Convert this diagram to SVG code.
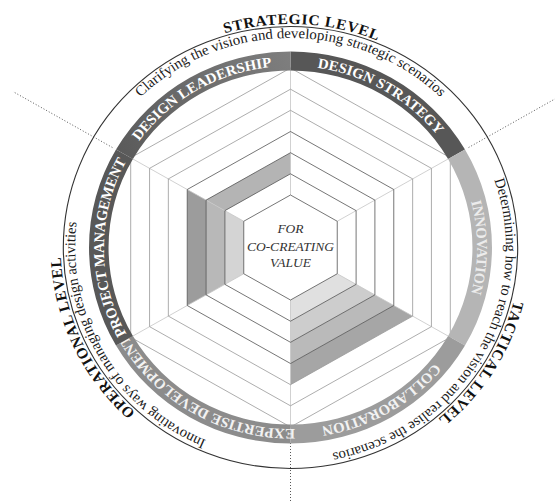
<svg xmlns="http://www.w3.org/2000/svg" width="555" height="501" viewBox="0 0 555 501">
<style>
  .hex-in{fill:none;stroke:#555;stroke-width:0.8}
  .hex-out{fill:none;stroke:#9a9a9a;stroke-width:0.8}
  .spoke{stroke:#c6c6c6;stroke-width:0.8}
  .band-text{font-family:"Liberation Serif","Times New Roman",serif;font-weight:bold;font-size:14.5px;fill:#fff;text-anchor:middle}
  .desc{font-family:"Liberation Serif","Times New Roman",serif;font-size:14.5px;fill:#1a1a1a;text-anchor:middle}
  .level{font-family:"Liberation Serif","Times New Roman",serif;font-weight:bold;font-size:15px;letter-spacing:0.7px;fill:#111;text-anchor:middle}
  .center{font-family:"Liberation Serif","Times New Roman",serif;font-style:italic;font-size:13.5px;fill:#333;text-anchor:middle}
  .divider{stroke:#444;stroke-width:0.9;stroke-dasharray:1 2;fill:none}
</style>
<defs>
  <!-- clockwise circles starting at the bottom, used to set text along the rings -->
  <path id="arc-band" d="M0,181.5 A181.5,181.5 0 1,1 0,-181.5 A181.5,181.5 0 1,1 0,181.5"/>
  <path id="arc-desc" d="M0,209.5 A209.5,209.5 0 1,1 0,-209.5 A209.5,209.5 0 1,1 0,209.5"/>
  <path id="arc-level" d="M0,223.5 A223.5,223.5 0 1,1 0,-223.5 A223.5,223.5 0 1,1 0,223.5"/>
  <linearGradient id="dl-grad" gradientUnits="userSpaceOnUse" x1="-170" y1="-98" x2="0" y2="-190">
    <stop offset="0" stop-color="#5a5a5a"/>
    <stop offset="1" stop-color="#7e7e7e"/>
  </linearGradient>
</defs>

<rect width="555" height="501" fill="#fff"/>

<!-- radial dividers between the three levels -->
<g id="dividers">
  <line class="divider" x1="112.4" y1="147.5" x2="13" y2="91.6"/>
  <line class="divider" x1="468.6" y1="147.5" x2="555" y2="98.9"/>
  <line class="divider" x1="290.5" y1="443" x2="290.5" y2="501"/>
</g>

<g transform="translate(290.5 247.5) scale(1.028 1)">
  <!-- shaded levels inside the hexagonal grid -->
  <g id="levels">
    <!-- project management -->
    <polygon fill="#d4d4d4" points="-45.47,26.25 -63.82,36.85 -63.82,-36.85 -45.47,-26.25"/>
    <polygon fill="#b8b8b8" points="-63.82,36.85 -82.1,47.4 -82.1,-47.4 -63.82,-36.85"/>
    <polygon fill="#9c9c9c" points="-82.1,47.4 -100.46,58 -100.46,-58 -82.1,-47.4"/>
    <!-- collaboration -->
    <polygon fill="#e0e0e0" points="45.47,26.25 63.82,36.85 0,73.7 0,52.5"/>
    <polygon fill="#cdcdcd" points="63.82,36.85 82.1,47.4 0,94.8 0,73.7"/>
    <polygon fill="#bababa" points="82.1,47.4 100.46,58 0,116 0,94.8"/>
    <polygon fill="#a6a6a6" points="100.46,58 118.82,68.6 0,137.2 0,116"/>
    <!-- design leadership -->
    <polygon fill="#b4b4b4" points="-63.82,-36.85 -82.1,-47.4 0,-94.8 0,-73.7"/>
  </g>

  <g id="hexagon-grid">
    <line class="spoke" x1="0" y1="-52.5" x2="0" y2="-179.5"/>
    <line class="spoke" x1="45.47" y1="-26.25" x2="155.45" y2="-89.75"/>
    <line class="spoke" x1="45.47" y1="26.25" x2="155.45" y2="89.75"/>
    <line class="spoke" x1="0" y1="52.5" x2="0" y2="179.5"/>
    <line class="spoke" x1="-45.47" y1="26.25" x2="-155.45" y2="89.75"/>
    <line class="spoke" x1="-45.47" y1="-26.25" x2="-155.45" y2="-89.75"/>
    <polygon class="hex-out" points="0,-179.5 155.45,-89.75 155.45,89.75 0,179.5 -155.45,89.75 -155.45,-89.75"/>
    <polygon class="hex-out" points="0,-158.3 137.09,-79.15 137.09,79.15 0,158.3 -137.09,79.15 -137.09,-79.15"/>
    <polygon class="hex-out" points="0,-137.2 118.82,-68.6 118.82,68.6 0,137.2 -118.82,68.6 -118.82,-68.6"/>
    <polygon class="hex-in" points="0,-116 100.46,-58 100.46,58 0,116 -100.46,58 -100.46,-58"/>
    <polygon class="hex-in" points="0,-94.8 82.1,-47.4 82.1,47.4 0,94.8 -82.1,47.4 -82.1,-47.4"/>
    <polygon class="hex-in" points="0,-73.7 63.82,-36.85 63.82,36.85 0,73.7 -63.82,36.85 -63.82,-36.85"/>
    <polygon class="hex-in" points="0,-52.5 45.47,-26.25 45.47,26.25 0,52.5 -45.47,26.25 -45.47,-26.25"/>
  </g>

  <g id="design-strategy">
    <path fill="#575757" d="M0,-196 A196,196 0 0,1 169.74,-98 L153.29,-88.5 A177,177 0 0,0 0,-177 Z"/>
    <text class="band-text"><textPath href="#arc-band" startOffset="58.333%">DESIGN STRATEGY</textPath></text>
  </g>
  <g id="innovation">
    <path fill="#b5b5b5" d="M169.74,-98 A196,196 0 0,1 169.74,98 L153.29,88.5 A177,177 0 0,0 153.29,-88.5 Z"/>
    <text class="band-text" style="fill:#ececec"><textPath href="#arc-band" startOffset="75%">INNOVATION</textPath></text>
  </g>
  <g id="collaboration">
    <path fill="#9c9c9c" d="M169.74,98 A196,196 0 0,1 0,196 L0,177 A177,177 0 0,0 153.29,88.5 Z"/>
    <text class="band-text" style="fill:#f2f2f2"><textPath href="#arc-band" startOffset="91.667%">COLLABORATION</textPath></text>
  </g>
  <g id="expertise-development">
    <path fill="#8c8c8c" d="M0,196 A196,196 0 0,1 -169.74,98 L-153.29,88.5 A177,177 0 0,0 0,177 Z"/>
    <text class="band-text" style="fill:#f2f2f2"><textPath href="#arc-band" startOffset="8.333%">EXPERTISE DEVELOPMENT</textPath></text>
  </g>
  <g id="project-management">
    <path fill="#585858" d="M-169.74,98 A196,196 0 0,1 -169.74,-98 L-153.29,-88.5 A177,177 0 0,0 -153.29,88.5 Z"/>
    <text class="band-text"><textPath href="#arc-band" startOffset="25%">PROJECT MANAGEMENT</textPath></text>
  </g>
  <g id="design-leadership">
    <path fill="url(#dl-grad)" d="M-169.74,-98 A196,196 0 0,1 0,-196 L0,-177 A177,177 0 0,0 -153.29,-88.5 Z"/>
    <text class="band-text"><textPath href="#arc-band" startOffset="41.667%">DESIGN LEADERSHIP</textPath></text>
  </g>

  <g id="outer-ring">
    <circle r="221" fill="none" stroke="#333" stroke-width="1.1"/>
  </g>

  <g id="strategic-level">
    <text class="level"><textPath href="#arc-level" startOffset="50.8%">STRATEGIC LEVEL</textPath></text>
    <text class="desc"><textPath href="#arc-desc" startOffset="50%">Clarifying the vision and developing strategic scenarios</textPath></text>
  </g>
  <g id="tactical-level">
    <text class="level"><textPath href="#arc-level" startOffset="83.9%">TACTICAL LEVEL</textPath></text>
    <text class="desc"><textPath href="#arc-desc" startOffset="83.333%">Determining how to reach the vision and realise the scenarios</textPath></text>
  </g>
  <g id="operational-level">
    <text class="level"><textPath href="#arc-level" startOffset="18.06%">OPERATIONAL LEVEL</textPath></text>
    <text class="desc"><textPath href="#arc-desc" startOffset="16.667%">Innovating ways of managing design activities</textPath></text>
  </g>
</g>

<g id="center-label">
  <text class="center" x="290.5" y="233.3">FOR</text>
  <text class="center" x="290.5" y="250.7">CO-CREATING</text>
  <text class="center" x="290.5" y="267.3">VALUE</text>
</g>
</svg>
